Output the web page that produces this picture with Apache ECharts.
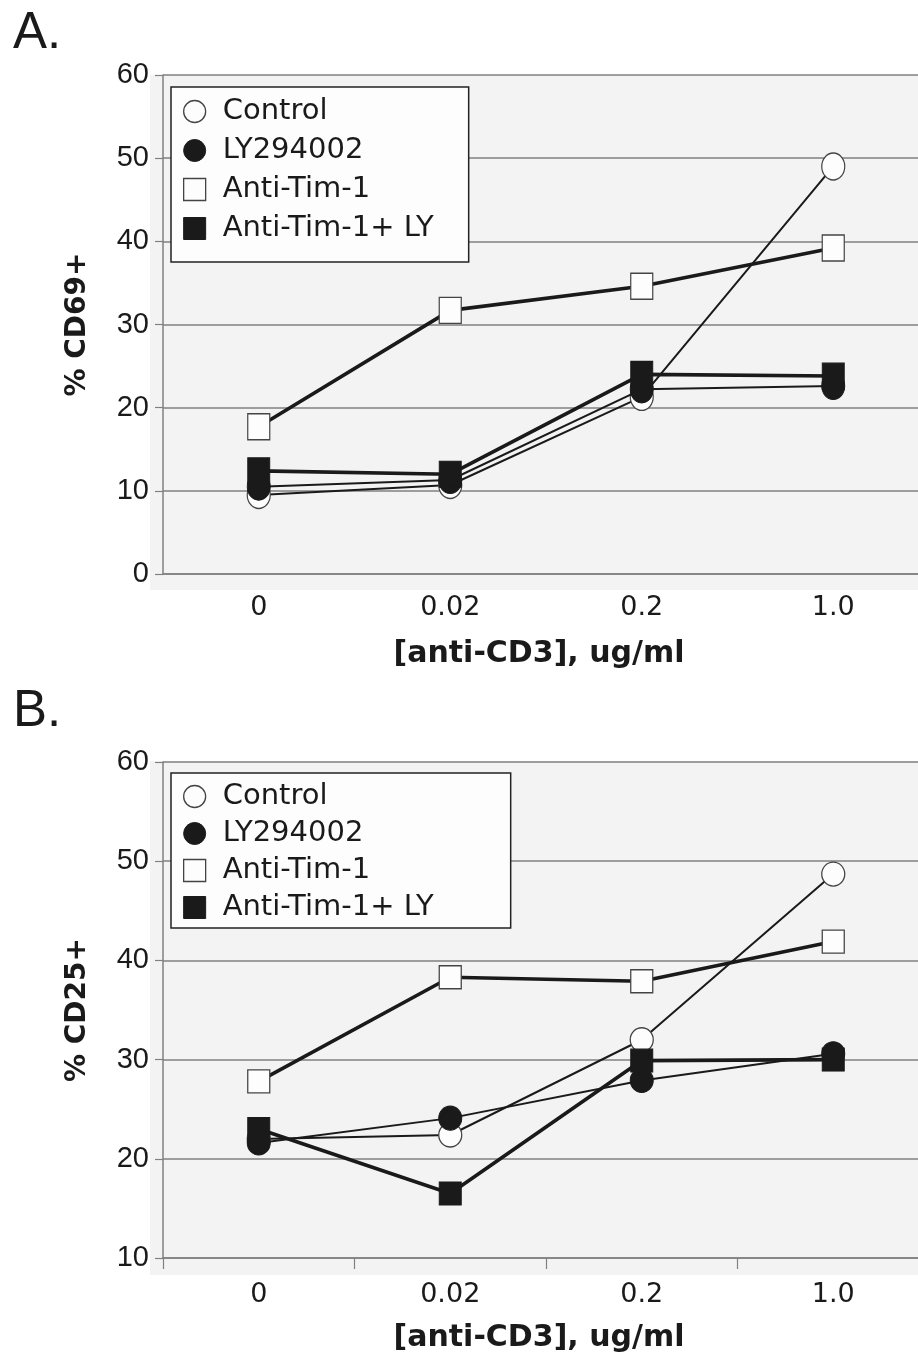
<!DOCTYPE html>
<html>
<head>
<meta charset="utf-8">
<script src="https://cdn.jsdelivr.net/npm/echarts@6/dist/echarts.min.js"></script>
<style>
  html, body { margin: 0; padding: 0; background: #fff; }
  #chart { width: 918px; height: 1353px; }
</style>
</head>
<body>
<div id="chart"></div>
<script>
const doses = ["0", "0.02", "0.2", "1.0"];
const seriesNames = ["Control", "LY294002", "Anti-Tim-1", "Anti-Tim-1+ LY"];

// panel A: % CD69+
const cd69Control = [9.5, 10.7, 21.3, 49.0];
const cd69LY = [10.5, 11.3, 22.2, 22.6];
const cd69Tim = [17.7, 31.7, 34.6, 39.2];
const cd69TimLY = [12.4, 12.0, 24.0, 23.8];

// panel B: % CD25+
const cd25Control = [22.0, 22.4, 32.0, 48.7];
const cd25LY = [21.6, 24.1, 27.9, 30.6];
const cd25Tim = [27.8, 38.3, 37.9, 41.9];
const cd25TimLY = [23.0, 16.5, 29.9, 30.0];

const GRID_COLOR = "#808080";
const INK = "#1a1a1a";
const OPEN_FILL = "#fdfdfd";

// marker look per series: [symbol, filled, thick line]
const looks = [
  ["circle", false, false],
  ["circle", true, false],
  ["rect", false, true],
  ["rect", true, true],
];

function markerStyle(filled) {
  return filled
    ? { color: INK, borderColor: INK, borderWidth: 1 }
    : { color: OPEN_FILL, borderColor: "#444", borderWidth: 1.3 };
}

function makeSeries(values, idx, grid, size) {
  const [symbol, filled, thick] = looks[idx];
  return {
    name: seriesNames[idx],
    type: "line",
    xAxisIndex: grid,
    yAxisIndex: grid,
    data: values,
    symbol,
    symbolSize: size,
    lineStyle: { color: INK, width: thick ? 3.6 : 2 },
    itemStyle: markerStyle(filled),
    z: 3 + idx,
  };
}

function makeLegend(top, gap, padding) {
  return {
    orient: "vertical",
    left: 171,
    top,
    itemWidth: 22,
    itemHeight: 22,
    itemGap: gap,
    padding,
    backgroundColor: OPEN_FILL,
    borderColor: "#222",
    borderWidth: 1.5,
    borderRadius: 0,
    selectedMode: false,
    textStyle: { fontFamily: "DejaVu Sans", fontSize: 29, color: INK, padding: [0, 0, 0, 12] },
    data: seriesNames.map((name, i) => ({
      name,
      icon: looks[i][0],
      itemStyle: markerStyle(looks[i][1]),
    })),
  };
}

function makeXAxis(grid, ticks, labelMargin) {
  return {
    type: "category",
    gridIndex: grid,
    data: doses,
    boundaryGap: true,
    axisLine: { lineStyle: { color: GRID_COLOR, width: 1.5 } },
    axisTick: { show: ticks, length: 11, interval: 0, lineStyle: { color: GRID_COLOR, width: 1.2 } },
    axisLabel: { fontFamily: "DejaVu Sans", fontSize: 27, color: INK, margin: labelMargin },
    name: "[anti-CD3], ug/ml",
    nameLocation: "middle",
    nameGap: 65,
    nameTextStyle: { fontFamily: "DejaVu Sans", fontWeight: "bold", fontSize: 30, color: INK, padding: [0, 14, 0, 0] },
  };
}

function makeYAxis(grid, min, name) {
  return {
    type: "value",
    gridIndex: grid,
    min,
    max: 60,
    interval: 10,
    axisLine: { show: true, lineStyle: { color: GRID_COLOR, width: 1.5 } },
    axisTick: { show: true, length: 8, lineStyle: { color: GRID_COLOR, width: 1.2 } },
    axisLabel: { fontFamily: "Liberation Sans", fontSize: 29, color: INK, margin: 14 },
    splitLine: { lineStyle: { color: GRID_COLOR, width: 1.5 } },
    name,
    nameLocation: "middle",
    nameRotate: 90,
    nameGap: 71,
    nameTextStyle: { fontFamily: "DejaVu Sans", fontWeight: "bold", fontSize: 28, color: INK },
  };
}

const chart = echarts.init(document.getElementById("chart"), null, { renderer: "canvas" });

chart.setOption({
  backgroundColor: "#ffffff",
  animation: false,
  title: [
    { text: "A.", left: 8, top: 3, textStyle: { fontFamily: "Liberation Sans", fontWeight: "normal", fontSize: 51, color: INK } },
    { text: "B.", left: 8, top: 681, textStyle: { fontFamily: "Liberation Sans", fontWeight: "normal", fontSize: 51, color: INK } },
  ],
  graphic: [
    { type: "rect", z: -10, silent: true, shape: { x: 150, y: 75, width: 768, height: 515 }, style: { fill: "#f3f3f3" } },
    { type: "rect", z: -10, silent: true, shape: { x: 150, y: 761, width: 768, height: 514 }, style: { fill: "#f3f3f3" } },
  ],
  // the plot runs past the right edge of the page, as in the reference
  grid: [
    { left: 163, top: 75, width: 766, height: 499, outerBoundsMode: "none", containLabel: false },
    { left: 163, top: 762, width: 766, height: 496, outerBoundsMode: "none", containLabel: false },
  ],
  legend: [
    makeLegend(87, 10, [10, 35, 19, 12]),
    makeLegend(773, 8, [9, 77, 6, 12]),
  ],
  xAxis: [makeXAxis(0, false, 20), makeXAxis(1, true, 23)],
  yAxis: [makeYAxis(0, 0, "% CD69+"), makeYAxis(1, 10, "% CD25+")],
  series: [
    makeSeries(cd69Control, 0, 0, [23, 27]),
    makeSeries(cd69LY, 1, 0, [23, 27]),
    makeSeries(cd69Tim, 2, 0, [22, 26]),
    makeSeries(cd69TimLY, 3, 0, [22, 26]),
    makeSeries(cd25Control, 0, 1, [23, 24]),
    makeSeries(cd25LY, 1, 1, [23, 24]),
    makeSeries(cd25Tim, 2, 1, [22, 23]),
    makeSeries(cd25TimLY, 3, 1, [22, 23]),
  ],
});
</script>
</body>
</html>
